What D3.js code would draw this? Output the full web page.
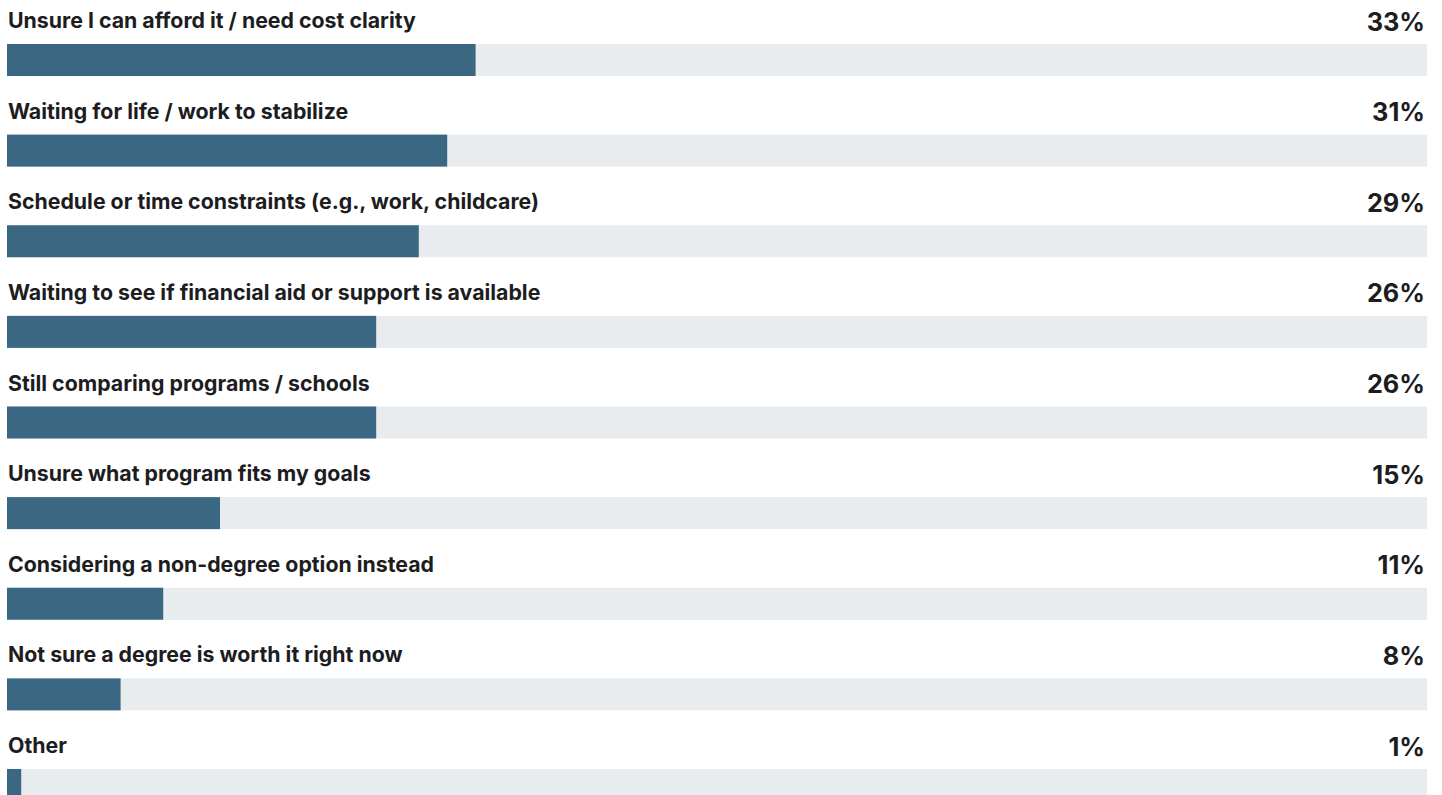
<!DOCTYPE html>
<html>
<head>
<meta charset="utf-8">
<script src="https://cdn.jsdelivr.net/npm/d3@7"></script>
<style>
  html, body { margin: 0; padding: 0; background: #ffffff; overflow: hidden; }
  svg { display: block; }
</style>
</head>
<body>
<svg id="chart" width="1442" height="795"></svg>
<script>
// Reasons for delaying enrollment
const categories = [
  "Unsure I can afford it / need cost clarity",
  "Waiting for life / work to stabilize",
  "Schedule or time constraints (e.g., work, childcare)",
  "Waiting to see if financial aid or support is available",
  "Still comparing programs / schools",
  "Unsure what program fits my goals",
  "Considering a non-degree option instead",
  "Not sure a degree is worth it right now",
  "Other"
];
const shares = [33, 31, 29, 26, 26, 15, 11, 8, 1];
const valueLabels = ["33%", "31%", "29%", "26%", "26%", "15%", "11%", "8%", "1%"];

const svg = d3.select("#chart");
const left = 7, right = 1427;
const barTop = 44, rowStep = 90.625, barH = 32;

const x = d3.scaleLinear().domain([0, 100]).range([left, right]);
const y = d3.scaleBand()
  .domain(categories)
  .range([barTop, barTop + rowStep * categories.length])
  .paddingInner(0).paddingOuter(0);

const rows = svg.selectAll("g.row")
  .data(categories.map((c, i) => ({ c, v: shares[i], t: valueLabels[i] })))
  .join("g")
  .attr("class", "row")
  .attr("transform", d => `translate(0,${y(d.c)})`);

// background track
rows.append("rect")
  .attr("x", x(0)).attr("y", 0)
  .attr("width", x(100) - x(0)).attr("height", barH)
  .attr("fill", "#e8ecef");

// value bar
rows.append("rect")
  .attr("x", x(0)).attr("y", 0)
  .attr("width", d => x(d.v) - x(0)).attr("height", barH)
  .attr("fill", "#3a6882");

// category label
rows.append("text")
  .attr("x", left + 1).attr("y", -16)
  .attr("font-family", "Inter, 'Noto Sans', sans-serif")
  .attr("font-size", 21.3).attr("font-weight", 650)
  .attr("fill", "#1d1d1f")
  .text(d => d.c);

// value label
rows.append("text")
  .attr("x", right - 2).attr("y", -13.5)
  .attr("text-anchor", "end")
  .attr("font-family", "Inter, 'Noto Sans', sans-serif")
  .attr("font-size", 25.3).attr("font-weight", 700)
  .attr("fill", "#1d1d1f")
  .text(d => d.t);
</script>
</body>
</html>
